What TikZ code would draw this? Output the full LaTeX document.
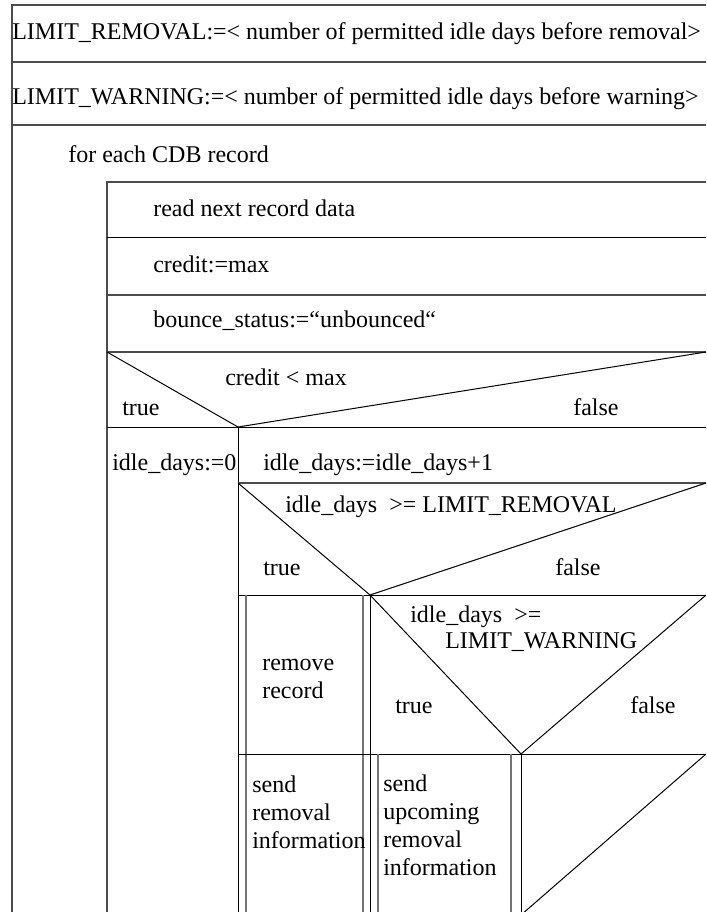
\documentclass[tikz,border=0pt]{standalone}
\usepackage{fontspec}
\setmainfont{Liberation Serif}
\begin{document}
\begin{tikzpicture}[x=0.75pt,y=-0.75pt,
  txt/.style={anchor=base west, inner sep=0pt, font=\fontsize{18}{21}\selectfont},
  frame/.style={draw=black!70, line width=0.8pt},
  ink/.style={draw=black, line width=0.75pt},
  inset/.style={draw=black!55, line width=0.8pt}]
\useasboundingbox (0,0) rectangle (706,912);
\clip (0,0) rectangle (706,912);

% declarations and outer loop frame
\draw[frame] (706,5) -- (12,5) -- (12,912);
\draw[frame] (12,62) -- (706,62);
\draw[frame] (12,125) -- (706,125);

% loop body
\draw[frame] (706,182) -- (107,182) -- (107,912);
\draw[ink] (107,238) -- (706,238);
\draw[frame] (107,295) -- (706,295);
\draw[frame] (107,352) -- (706,352);

% if credit < max
\draw[ink] (107,352) -- (238,427) -- (706,352);
\draw[ink] (107,427) -- (706,427);
\draw[ink] (238,427) -- (238,912);
\draw[frame] (238,483) -- (706,483);

% if idle_days >= LIMIT_REMOVAL
\draw[ink] (238,483) -- (370,595) -- (706,483);
\draw[ink] (238,595) -- (706,595);
\draw[ink] (370,595) -- (370,912);
\draw[inset] (246,595) -- (246,912);
\draw[inset] (363,595) -- (363,912);

% if idle_days >= LIMIT_WARNING
\draw[ink] (370,595) -- (521,754) -- (706,595);
\draw[ink] (238,754) -- (706,754);
\draw[ink] (521,754) -- (521,912);
\draw[inset] (378,754) -- (378,912);
\draw[inset] (511,754) -- (511,912);
% empty else branch
\draw[ink] (706,754) -- (521,915);

% texts
\node[txt] (limrem) at (12,40) {LIMIT\_REMOVAL:=< number of permitted idle days before removal>};
\node[txt] (limwarn) at (12,105) {LIMIT\_WARNING:=< number of permitted idle days before warning>};
\node[txt] (loop) at (68,163) {for each CDB record};
\node[txt] (read) at (153,217) {read next record data};
\node[txt] (credit) at (153,273) {credit:=max};
\node[txt] (bounce) at (153,328) {bounce\_status:=“unbounced“};
\node[txt] (cond1) at (225,385) {credit < max};
\node[txt] (t1) at (122,415) {true};
\node[txt] (f1) at (573,415) {false};
\node[txt] (idle0) at (112,470) {idle\_days:=0};
\node[txt] (idleinc) at (263,470) {idle\_days:=idle\_days+1};
\node[txt] (cond2) at (285,512) {idle\_days\ \ >= LIMIT\_REMOVAL};
\node[txt] (t2) at (263,575) {true};
\node[txt] (f2) at (555,575) {false};
\node[txt] (rm1) at (262,670) {remove};
\node[txt] (rm2) at (262,698) {record};
\node[txt] (cond3a) at (410,622) {idle\_days\ \ >=};
\node[txt] (cond3b) at (445,648) {LIMIT\_WARNING};
\node[txt] (t3) at (395,713) {true};
\node[txt] (f3) at (630,713) {false};
\node[txt] (sr1) at (252,792) {send};
\node[txt] (sr2) at (252,820) {removal};
\node[txt] (sr3) at (252,848) {information};
\node[txt] (su1) at (383,791) {send};
\node[txt] (su2) at (383,819) {upcoming};
\node[txt] (su3) at (383,847) {removal};
\node[txt] (su4) at (383,875) {information};
\end{tikzpicture}
\end{document}
